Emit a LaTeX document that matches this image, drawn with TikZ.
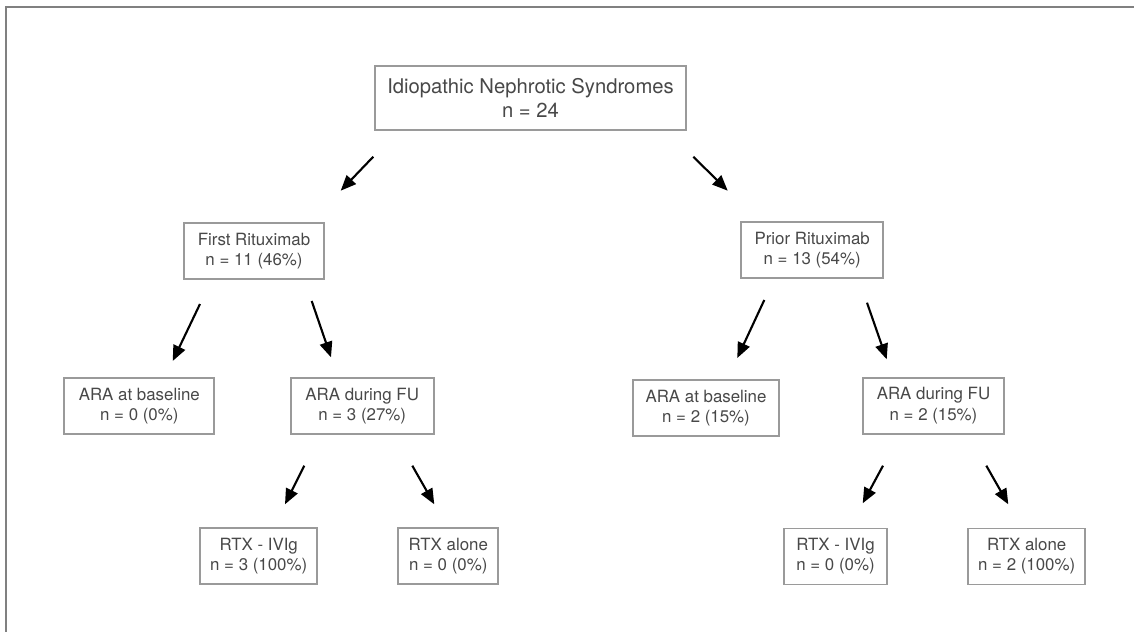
\documentclass[tikz,border=0pt]{standalone}
\usepackage{fontspec}
\setmainfont{TeX Gyre Heros}
\usetikzlibrary{arrows.meta}
\definecolor{boxgray}{HTML}{9A9A9A}
\definecolor{textgray}{HTML}{484848}
\tikzset{
  box/.style={draw=boxgray, line width=1.4pt, text=textgray, align=center,
    minimum height=1.4cm, inner xsep=2pt, font=\fontsize{12}{14.4}\selectfont},
  arr/.style={-{Triangle[length=11pt,width=9pt]}, line width=1.5pt}
}
\begin{document}
\begin{tikzpicture}[x=0.025cm, y=-0.025cm]
  \useasboundingbox (0,0) rectangle (1134,632);
  \draw[gray, line width=0.9pt] (6,632) -- (6,7) -- (1134,7);

  \node[box, minimum width=7.775cm, minimum height=1.6cm, font=\fontsize{14.4}{17.2}\selectfont] (INS) at (530.5,98) {Idiopathic Nephrotic Syndromes\\n = 24};
  \node[box, minimum width=3.5cm]  (FR) at (254,251)   {First Rituximab\\n = 11 (46\%)};
  \node[box, minimum width=3.56cm] (PR) at (812.2,250) {Prior Rituximab\\n = 13 (54\%)};
  \node[box, minimum width=3.75cm]  (FRB) at (139.3,406) {ARA at baseline\\n = 0 (0\%)};
  \node[box, minimum width=3.575cm] (FRF) at (362.2,406) {ARA during FU\\n = 3 (27\%)};
  \node[box, minimum width=3.63cm]  (PRB) at (706,407.8) {ARA at baseline\\n = 2 (15\%)};
  \node[box, minimum width=3.54cm]  (PRF) at (933.5,405.7) {ARA during FU\\n = 2 (15\%)};
  \node[box, minimum width=2.92cm] (FRI) at (258.7,556.3) {RTX - IVIg\\n = 3 (100\%)};
  \node[box, minimum width=2.5cm]  (FRA) at (448.3,556.3) {RTX alone\\n = 0 (0\%)};
  \node[box, minimum width=2.59cm] (PRI) at (835.5,556.5) {RTX - IVIg\\n = 0 (0\%)};
  \node[box, minimum width=2.92cm] (PRA) at (1026.7,556.5) {RTX alone\\n = 2 (100\%)};

  % arrow ends float between the boxes
  \coordinate (A1) at (373.3,156.7); \coordinate (B1) at (340.7,190.7);
  \coordinate (A2) at (693.3,156.7); \coordinate (B2) at (727.7,190.7);
  \coordinate (A3) at (200,304);     \coordinate (B3) at (172.7,361);
  \coordinate (A4) at (311.7,301);   \coordinate (B4) at (331,357.3);
  \coordinate (A5) at (764.3,300);   \coordinate (B5) at (737.3,358);
  \coordinate (A6) at (867,302.7);   \coordinate (B6) at (886.7,359.3);
  \coordinate (A7) at (304.3,465.7); \coordinate (B7) at (285,504.3);
  \coordinate (A8) at (412.3,465.7); \coordinate (B8) at (434.3,504.3);
  \coordinate (A9) at (883,465.7);   \coordinate (B9) at (862.7,503.3);
  \coordinate (A10) at (986.3,465.7); \coordinate (B10) at (1008.3,504.3);

  \draw[arr] (A1) -- (B1);
  \draw[arr] (A2) -- (B2);
  \draw[arr] (A3) -- (B3);
  \draw[arr] (A4) -- (B4);
  \draw[arr] (A5) -- (B5);
  \draw[arr] (A6) -- (B6);
  \draw[arr] (A7) -- (B7);
  \draw[arr] (A8) -- (B8);
  \draw[arr] (A9) -- (B9);
  \draw[arr] (A10) -- (B10);
\end{tikzpicture}
\end{document}
